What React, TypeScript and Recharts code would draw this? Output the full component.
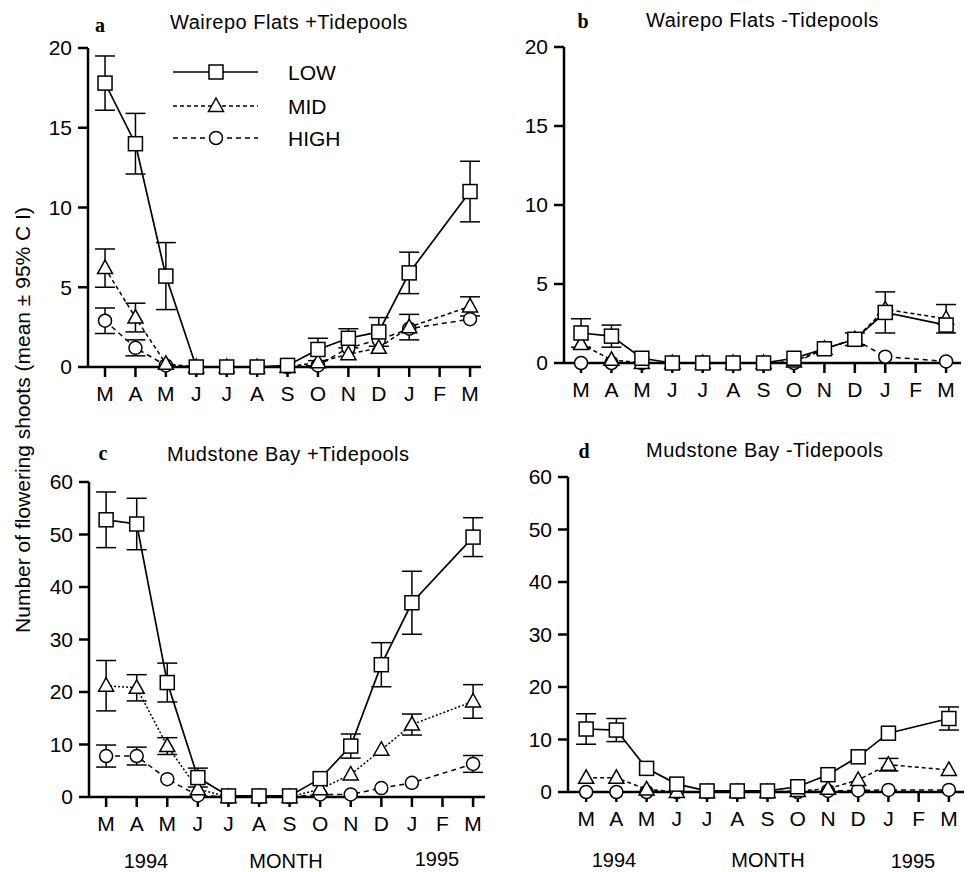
import { LineChart, Line, XAxis, YAxis, ErrorBar } from "recharts";

const months = ["M", "A", "M", "J", "J", "A", "S", "O", "N", "D", "J", "F", "M"];
const monthTicks = [0, 1, 2, 3, 4, 5, 6, 7, 8, 9, 10, 11, 12];
const levels = ["LOW", "MID", "HIGH"];

// a: Wairepo Flats +Tidepools
const aLow = [17.8, 14.0, 5.7, 0, 0, 0, 0.1, 1.1, 1.8, 2.2, 5.9, null, 11.0];
const aLowCI = [1.7, 1.9, 2.1, null, null, null, null, 0.7, 0.6, 0.9, 1.3, null, 1.9];
const aMid = [6.2, 3.1, 0.2, 0, 0, 0, 0, 0.3, 0.8, 1.2, 2.5, null, 3.8];
const aMidCI = [1.2, 0.9, null, null, null, null, null, null, null, null, 0.8, null, 0.6];
const aHigh = [2.9, 1.2, 0.1, 0, 0, 0, 0, 0.1, 1.2, 1.7, 2.4, null, 3.0];
const aHighCI = [0.8, 0.5, null, null, null, null, null, null, null, null, null, null, null];

// b: Wairepo Flats -Tidepools
const bLow = [1.9, 1.7, 0.3, 0, 0, 0, 0, 0.3, 0.9, 1.5, 3.2, null, 2.4];
const bLowCI = [0.9, 0.7, null, null, null, null, null, null, null, 0.4, 1.3, null, null];
const bMid = [1.2, 0.2, 0, 0, 0, 0, 0, 0.1, 0.9, 1.5, 3.4, null, 2.8];
const bMidCI = [null, null, null, null, null, null, null, null, null, null, null, null, 0.9];
const bHigh = [0, 0, 0, 0, 0, 0, 0, 0, 0.9, 1.5, 0.4, null, 0.1];

// c: Mudstone Bay +Tidepools
const cLow = [52.8, 52.0, 21.8, 3.7, 0.2, 0.2, 0.2, 3.5, 9.7, 25.2, 37.0, null, 49.5];
const cLowCI = [5.3, 4.9, 3.7, 1.8, null, null, null, null, 2.3, 4.2, 6.0, null, 3.7];
const cMid = [21.2, 20.8, 9.7, 1.5, 0, 0, 0, 1.5, 4.3, 9.0, 13.8, null, 18.2];
const cMidCI = [4.8, 2.5, 1.6, null, null, null, null, null, null, null, 2.0, null, 3.2];
const cHigh = [7.8, 7.8, 3.4, 0.3, 0, 0, 0, 0.5, 0.5, 1.7, 2.7, null, 6.3];
const cHighCI = [2.1, 1.7, null, null, null, null, null, null, null, null, null, null, 1.6];

// d: Mudstone Bay -Tidepools
const dLow = [12.0, 11.8, 4.5, 1.5, 0.2, 0.2, 0.2, 1.0, 3.3, 6.7, 11.2, null, 14.0];
const dLowCI = [2.9, 2.2, null, null, null, null, null, null, null, null, null, null, 2.2];
const dMid = [2.7, 2.7, 0.5, 0, 0, 0, 0, 0.2, 0.6, 2.3, 5.2, null, 4.2];
const dMidCI = [null, null, null, null, null, null, null, null, null, null, 1.2, null, null];
const dHigh = [0, 0, 0, 0, 0, 0, 0, 0, 0.2, 0.3, 0.4, null, 0.4];

const none = months.map(() => null);

const FONT = "'Liberation Sans', Arial, Helvetica, sans-serif";
const SERIF = "'Liberation Serif', 'Times New Roman', serif";

const build = (low, lowCI, mid, midCI, high, highCI) =>
  months.map((m, i) => ({
    x: i,
    low: low[i],
    lowCI: lowCI[i],
    mid: mid[i],
    midCI: midCI[i],
    high: high[i],
    highCI: highCI[i],
  }));

const Square = (props: any) => {
  const { cx, cy, index } = props;
  if (cy == null || isNaN(cy)) return <g key={`s${index}`} />;
  return <rect key={`s${index}`} x={cx - 7} y={cy - 7} width={14} height={14} fill="#fff" stroke="#000" strokeWidth={1.5} />;
};

const Triangle = (props: any) => {
  const { cx, cy, index } = props;
  if (cy == null || isNaN(cy)) return <g key={`t${index}`} />;
  return (
    <polygon
      key={`t${index}`}
      points={`${cx},${cy - 8} ${cx - 7.5},${cy + 5.5} ${cx + 7.5},${cy + 5.5}`}
      fill="#fff"
      stroke="#000"
      strokeWidth={1.5}
    />
  );
};

const Circle = (props: any) => {
  const { cx, cy, index } = props;
  if (cy == null || isNaN(cy)) return <g key={`c${index}`} />;
  return <circle key={`c${index}`} cx={cx} cy={cy} r={6.5} fill="#fff" stroke="#000" strokeWidth={1.5} />;
};

const tickStyle = { fill: "#000", fontSize: 21, fontFamily: FONT };
const axisStroke = { stroke: "#000", strokeWidth: 2.5 };

function Panel({ data, yMax, yStep, margin, padL, padR, midDash, left, top, height }) {
  const yTicks = [];
  for (let v = 0; v <= yMax; v += yStep) yTicks.push(v);
  return (
    <div style={{ position: "absolute", left, top }}>
      <LineChart width={486} height={height} data={data} margin={margin}>
        <XAxis
          type="number"
          dataKey="x"
          domain={[-padL, 12 + padR]}
          ticks={monthTicks}
          interval={0}
          tickFormatter={(v) => months[v]}
          axisLine={axisStroke}
          tickLine={axisStroke}
          tickSize={10}
          tickMargin={9}
          tick={tickStyle}
          height={40}
        />
        <YAxis
          type="number"
          domain={[0, yMax]}
          ticks={yTicks}
          interval={0}
          width={60}
          axisLine={axisStroke}
          tickLine={axisStroke}
          tickSize={10}
          tickMargin={6}
          tick={tickStyle}
        />
        <Line
          dataKey="high"
          stroke="#000"
          strokeWidth={1.5}
          strokeDasharray="5 4"
          dot={Circle}
          connectNulls
          isAnimationActive={false}
        >
          <ErrorBar dataKey="highCI" direction="y" width={10} stroke="#000" strokeWidth={1.5} isAnimationActive={false} />
        </Line>
        <Line
          dataKey="mid"
          stroke="#000"
          strokeWidth={1.5}
          strokeDasharray={midDash}
          dot={Triangle}
          connectNulls
          isAnimationActive={false}
        >
          <ErrorBar dataKey="midCI" direction="y" width={10} stroke="#000" strokeWidth={1.5} isAnimationActive={false} />
        </Line>
        <Line dataKey="low" stroke="#000" strokeWidth={1.7} dot={Square} connectNulls isAnimationActive={false}>
          <ErrorBar dataKey="lowCI" direction="y" width={10} stroke="#000" strokeWidth={1.5} isAnimationActive={false} />
        </Line>
      </LineChart>
    </div>
  );
}

export default function App() {
  const dataA = build(aLow, aLowCI, aMid, aMidCI, aHigh, aHighCI);
  const dataB = build(bLow, bLowCI, bMid, bMidCI, bHigh, none);
  const dataC = build(cLow, cLowCI, cMid, cMidCI, cHigh, cHighCI);
  const dataD = build(dLow, dLowCI, dMid, dMidCI, dHigh, none);

  const legendRows = [
    { y: 72, dash: undefined, Mark: Square },
    { y: 106, dash: "4 3", Mark: Triangle },
    { y: 138, dash: "5 4", Mark: Circle },
  ];

  return (
    <div style={{ position: "absolute", left: 0, top: 0, width: 972, height: 872, background: "#fff", overflow: "hidden" }}>
      <Panel
        data={dataA}
        yMax={20}
        yStep={5}
        margin={{ top: 48, right: 5, bottom: 13, left: 28 }}
        padL={0.56}
        padR={0.36}
        midDash="4 3"
        left={0}
        top={0}
        height={420}
      />
      <Panel
        data={dataB}
        yMax={20}
        yStep={5}
        margin={{ top: 47, right: 11, bottom: 17, left: 18 }}
        padL={0.56}
        padR={0.49}
        midDash="4 3"
        left={486}
        top={0}
        height={420}
      />
      <Panel
        data={dataC}
        yMax={60}
        yStep={10}
        margin={{ top: 62, right: 1, bottom: 35, left: 29 }}
        padL={0.56}
        padR={0.39}
        midDash="2 2"
        left={0}
        top={420}
        height={452}
      />
      <Panel
        data={dataD}
        yMax={60}
        yStep={10}
        margin={{ top: 57, right: 8, bottom: 40, left: 22 }}
        padL={0.6}
        padR={0.5}
        midDash="4 3"
        left={486}
        top={420}
        height={452}
      />
      <svg width={972} height={872} style={{ position: "absolute", left: 0, top: 0, pointerEvents: "none" }}>
        {legendRows.map((r, i) => (
          <g key={levels[i]}>
            <line x1={173} x2={258} y1={r.y} y2={r.y} stroke="#000" strokeWidth={1.5} strokeDasharray={r.dash} />
            <r.Mark cx={216} cy={r.y} index={i} />
            <text x={288} y={r.y + 8} fontSize={21} fontFamily={FONT} fill="#000">
              {levels[i]}
            </text>
          </g>
        ))}
        <g fontFamily={FONT} fontSize={20} fill="#000">
          <text x={-420} y={30} transform="rotate(-90)" textAnchor="middle" fontSize={21}>
            Number of flowering shoots (mean ± 95% C I)
          </text>
          <text x={170} y={29} letterSpacing={0.5}>Wairepo Flats +Tidepools</text>
          <text x={646} y={27} letterSpacing={0.5}>Wairepo Flats -Tidepools</text>
          <text x={167} y={461} letterSpacing={0.5}>Mudstone Bay +Tidepools</text>
          <text x={646} y={457} letterSpacing={0.5}>Mudstone Bay -Tidepools</text>
          <text x={146} y={868} textAnchor="middle">1994</text>
          <text x={286} y={868} textAnchor="middle">MONTH</text>
          <text x={437} y={866} textAnchor="middle">1995</text>
          <text x={614} y={867} textAnchor="middle">1994</text>
          <text x={768} y={867} textAnchor="middle">MONTH</text>
          <text x={913} y={868} textAnchor="middle">1995</text>
        </g>
        <g fontFamily={SERIF} fontSize={20} fontWeight="bold" fill="#000" textAnchor="middle">
          <text x={100} y={32}>a</text>
          <text x={583} y={28}>b</text>
          <text x={103} y={460}>c</text>
          <text x={584} y={458}>d</text>
        </g>
      </svg>
    </div>
  );
}
